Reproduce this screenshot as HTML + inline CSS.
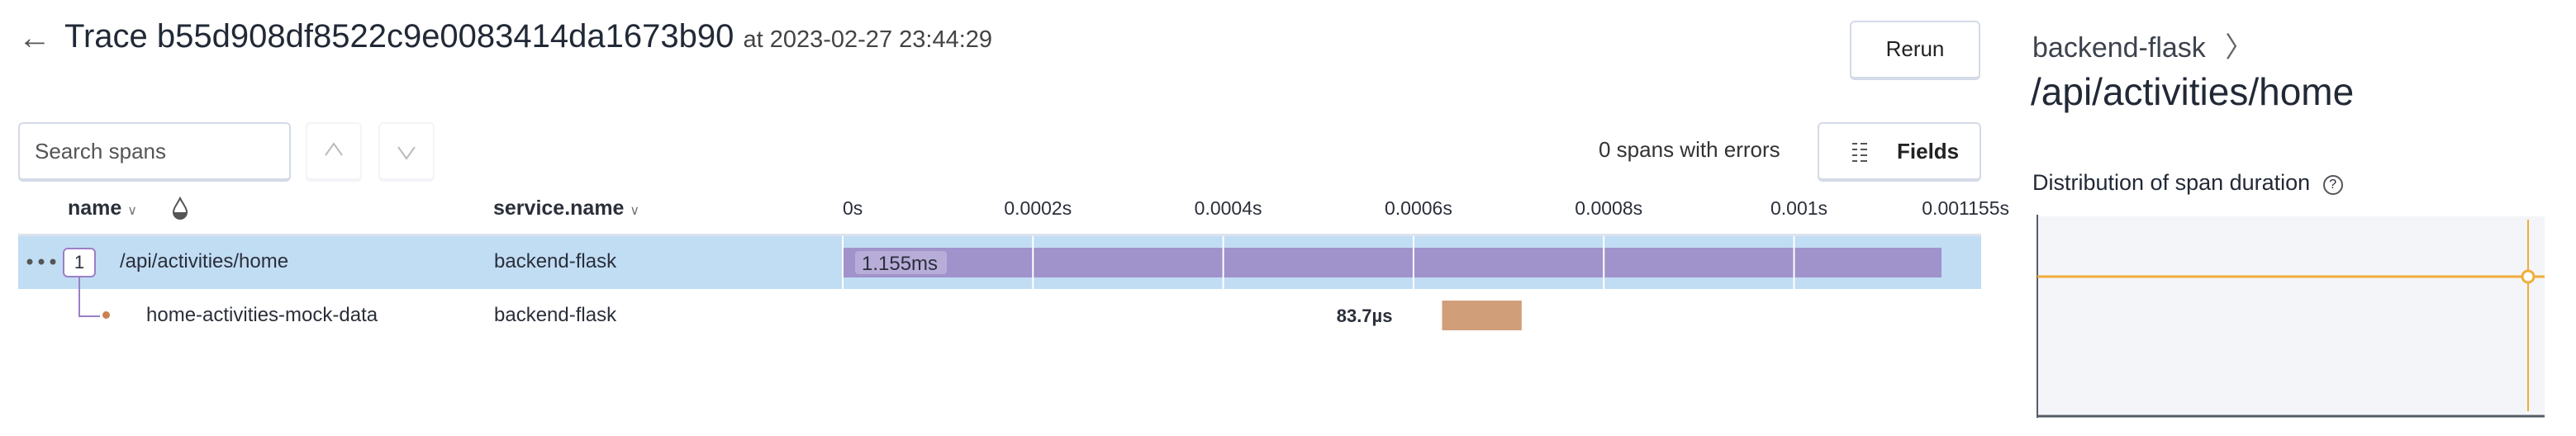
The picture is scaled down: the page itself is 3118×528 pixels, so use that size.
<!DOCTYPE html>
<html><head><meta charset="utf-8">
<style>
body{margin:0;width:3118px;height:528px;background:#fff;font-family:"Liberation Sans",sans-serif;color:#2a2f3a;position:relative;overflow:hidden}
.a{position:absolute;white-space:nowrap}
.btn{position:absolute;border:2px solid #d4dae6;border-bottom-width:4px;border-radius:6px;background:#fff;box-sizing:border-box}
</style></head><body>
<div class="a" style="left:22px;top:24px;font-size:40px;color:#555">&#8592;</div>
<div class="a" style="left:78px;top:22px;font-size:40px;color:#222936">Trace b55d908df8522c9e0083414da1673b90 <span style="font-size:29px;color:#444">at 2023-02-27 23:44:29</span></div>
<div class="btn" style="left:2239px;top:25px;width:158px;height:72px;font-size:26px;text-align:center;line-height:64px;color:#222">Rerun</div>
<div class="btn" style="left:22px;top:148px;width:330px;height:72px;font-size:26px;line-height:66px;padding-left:18px;color:#555">Search spans</div>
<div class="btn" style="left:370px;top:148px;width:68px;height:72px;border-color:#f3f4f7"><svg width="64" height="66"><path d="M22 38 L32 24 L42 38" fill="none" stroke="#bbb" stroke-width="2"/></svg></div>
<div class="btn" style="left:458px;top:148px;width:68px;height:72px;border-color:#f3f4f7"><svg width="64" height="66"><path d="M22 28 L32 42 L42 28" fill="none" stroke="#bbb" stroke-width="2"/></svg></div>
<div class="a" style="left:1935px;top:166px;font-size:26px;color:#333">0 spans with errors</div>
<div class="btn" style="left:2200px;top:148px;width:198px;height:72px;font-size:26px;line-height:66px;padding-left:94px;color:#222;font-weight:bold"><svg style="position:absolute;left:40px;top:22px" width="18" height="26"><g stroke="#555" stroke-width="2"><path d="M0 2h6M10 2h8M0 9h6M10 9h8M0 16h6M10 16h8M0 23h6M10 23h8"/></g></svg>Fields</div>
<div class="a" style="left:82px;top:238px;font-size:25px;font-weight:bold;color:#2a2f3a">name <span style="font-size:16px;font-weight:normal;color:#777">&#8744;</span></div>
<svg class="a" style="left:208px;top:238px" width="20" height="28"><path d="M10 2 C6 10 2 14 2 19 A8 8 0 0 0 18 19 C18 14 14 10 10 2Z" fill="#fff" stroke="#555" stroke-width="2"/><path d="M2 19 A8 8 0 0 0 18 19Z" fill="#555"/></svg>
<div class="a" style="left:597px;top:238px;font-size:25px;font-weight:bold;color:#2a2f3a">service.name <span style="font-size:16px;font-weight:normal;color:#777">&#8744;</span></div>
<div class="a" style="left:22px;top:283px;width:2376px;height:3px;background:#dde3ec"></div>
<div class="a" style="left:22px;top:286px;width:2376px;height:64px;background:#c1ddf4"></div>
<svg class="a" style="left:32px;top:312px" width="40" height="10"><circle cx="4" cy="5" r="3.5" fill="#555"/><circle cx="18" cy="5" r="3.5" fill="#555"/><circle cx="32" cy="5" r="3.5" fill="#555"/></svg>
<div class="a" style="left:76px;top:300px;width:36px;height:32px;border:2px solid #9b7fc6;border-radius:6px;background:#fff;text-align:center;font-size:22px;line-height:32px">1</div>
<div class="a" style="left:95px;top:336px;width:24px;height:46px;border-left:2px solid #9b7fc6;border-bottom:2px solid #9b7fc6"></div>
<div class="a" style="left:124px;top:377px;width:9px;height:9px;border-radius:50%;background:#c98250"></div>
<div class="a" style="left:145px;top:303px;font-size:24px;color:#2a2f3a">/api/activities/home</div>
<div class="a" style="left:177px;top:368px;font-size:24px;color:#2a2f3a">home-activities-mock-data</div>
<div class="a" style="left:598px;top:303px;font-size:24px;color:#2a2f3a">backend-flask</div>
<div class="a" style="left:598px;top:368px;font-size:24px;color:#2a2f3a">backend-flask</div>
<svg class="a" id="wf" style="left:0;top:0" width="2440" height="420"></svg>

<div class="a" style="left:2460px;top:30px;font-size:34px;color:#3d434e">backend-flask <span style="margin-left:14px;color:#666">&#12297;</span></div>
<div class="a" style="left:2458px;top:84px;font-size:46px;color:#222936">/api/activities/home</div>
<div class="a" style="left:2460px;top:206px;font-size:27px;color:#222936">Distribution of span duration <span style="display:inline-block;width:20px;height:20px;border:2px solid #555;border-radius:50%;font-size:16px;text-align:center;line-height:20px;margin-left:8px;vertical-align:2px">?</span></div>
<svg class="a" style="left:2464px;top:258px" width="654" height="250">
<rect x="2" y="4" width="614" height="242" fill="#f4f5f9"/>
<line x1="2" y1="2" x2="2" y2="248" stroke="#555c66" stroke-width="2"/>
<line x1="2" y1="246" x2="616" y2="246" stroke="#555c66" stroke-width="3"/>
<line x1="2" y1="77" x2="616" y2="77" stroke="#f0ad3a" stroke-width="3"/>
<line x1="596" y1="8" x2="596" y2="240" stroke="#f0ad3a" stroke-width="2"/>
<circle cx="596" cy="77" r="7" fill="#fff" stroke="#f0ad3a" stroke-width="3"/>
</svg>
<script>
const tickValues=[0,0.0002,0.0004,0.0006,0.0008,0.001,0.001155];
const tickLabels=["0s","0.0002s","0.0004s","0.0006s","0.0008s","0.001s","0.001155s"];
const spanNames=["/api/activities/home","home-activities-mock-data"];
const spanStarts=[0,0.00063];
const spanDurations=[0.001155,0.0000837];
const spanLabels=["1.155ms","83.7µs"];
const spanColors=["#a092cb","#d09f7a"];
const NS="http://www.w3.org/2000/svg";
const svg=document.getElementById('wf');
const x0=1020,x1=2350,maxT=0.001155;
function xs(v){return x0+(v/maxT)*(x1-x0);}
const rowY=[300,364],rowH=36;
function el(t,a){const e=document.createElementNS(NS,t);for(const k in a)e.setAttribute(k,a[k]);svg.appendChild(e);return e;}
tickValues.forEach((v,i)=>{
  const last=i==tickValues.length-1;
  const t=el('text',{x:last?2432:xs(v)+(i==0?0:6),y:260,'font-size':23,fill:'#2a2f3a','font-family':'Liberation Sans, sans-serif','text-anchor':i==0?'start':(last?'end':'middle')});
  
  
  t.textContent=tickLabels[i];
});
spanStarts.forEach((s,i)=>{
  const r=el('rect',{x:xs(s),y:rowY[i],width:xs(s+spanDurations[i])-xs(s),height:rowH,fill:spanColors[i]});
  
  
});
tickValues.slice(0,-1).forEach(v=>{
  const l=el('line',{x1:xs(v),y1:286,x2:xs(v),y2:350,stroke:'#fff','stroke-width':2});
  
  
});
const c=el('rect',{x:xs(spanStarts[0])+15,y:rowY[0]+4,width:111,height:28,rx:4,fill:'#b8add9'});


const lt=el('text',{x:xs(spanStarts[0])+23,y:rowY[0]+27,'font-size':24,fill:'#2a2f3a','font-family':'Liberation Sans, sans-serif'});


lt.textContent=spanLabels[0];
const ct=el('text',{x:xs(spanStarts[1])-60,y:rowY[1]+26,'font-size':22,fill:'#2a2f3a','font-weight':'bold','text-anchor':'end','font-family':'Liberation Sans, sans-serif'});


ct.textContent=spanLabels[1];
</script>
</body></html>
